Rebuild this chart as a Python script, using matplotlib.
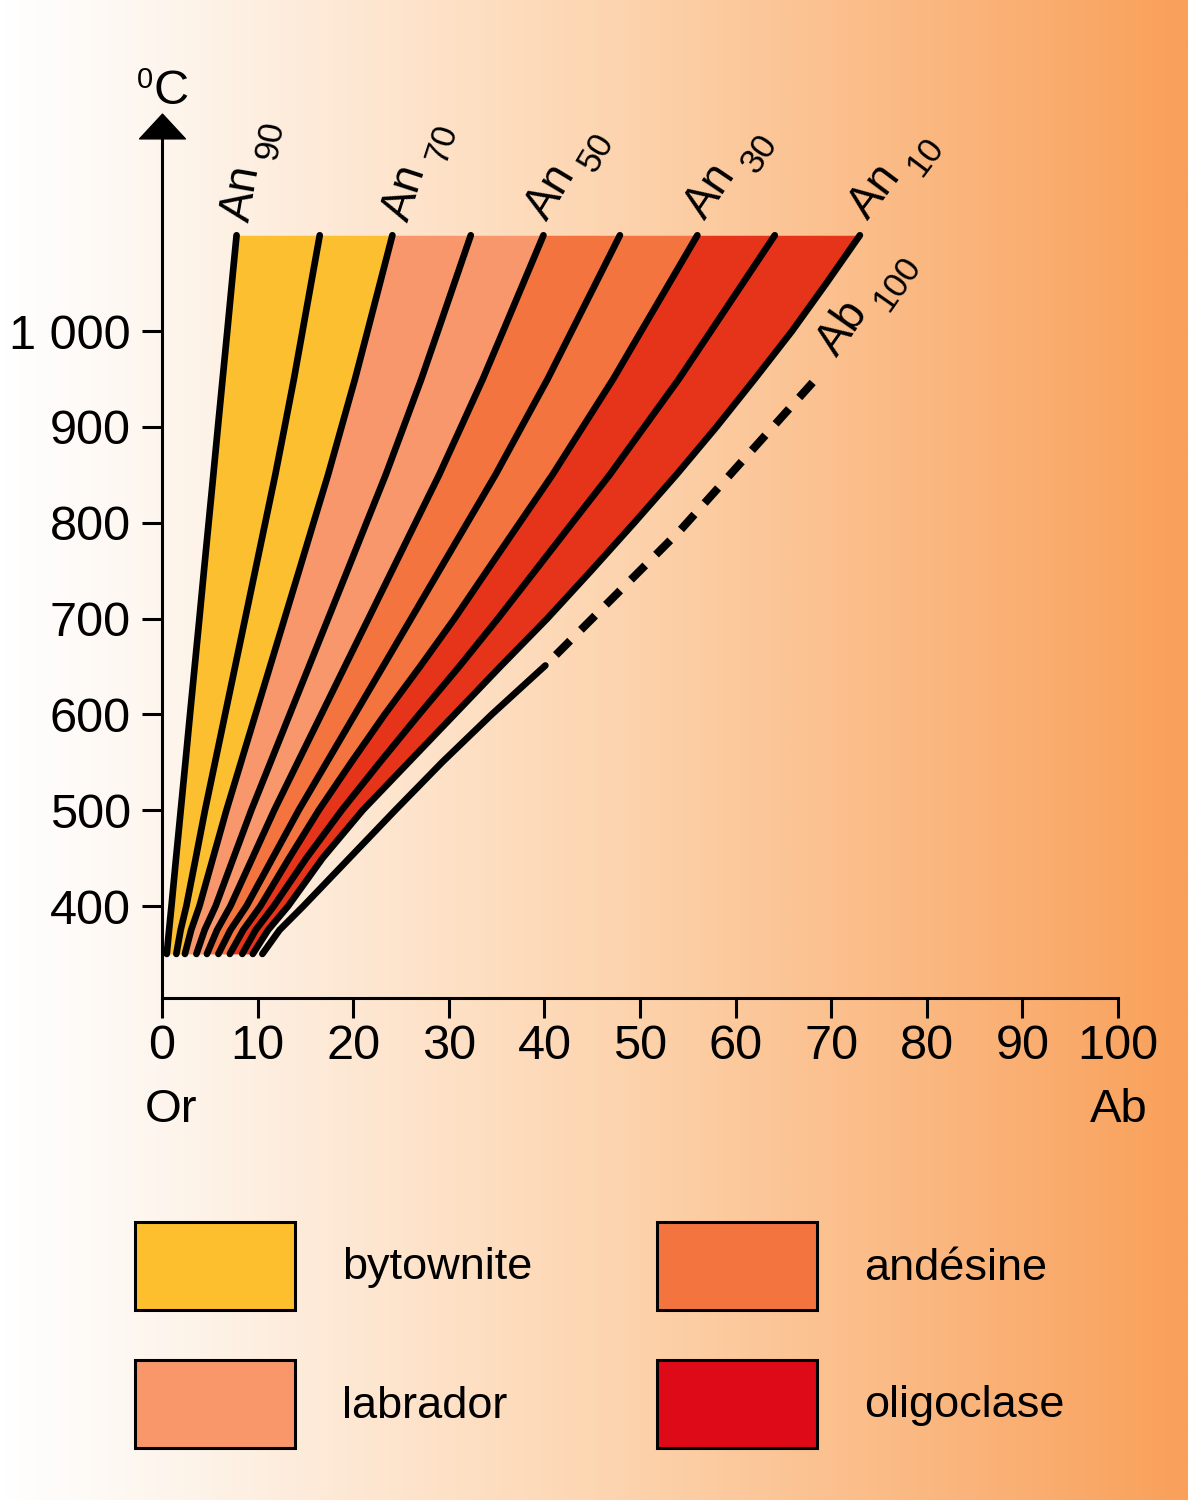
import numpy as np
import matplotlib.pyplot as plt
from matplotlib.colors import LinearSegmentedColormap
from matplotlib.patches import Rectangle
from matplotlib.path import Path

plt.rcParams['font.family'] = ['Liberation Sans', 'DejaVu Sans']

# temperature levels (deg C) shared by all An curves
temps = [350, 375, 400, 450, 500, 550, 600, 650, 700, 750, 800, 850, 900,
         950, 1000, 1050, 1100]

# Ab content (%) of each iso-An curve at those temperatures
an90 = [0.5, 0.74, 0.99, 1.47, 1.96, 2.45, 2.93, 3.42, 3.91, 4.39, 4.88,
        5.37, 5.85, 6.34, 6.83, 7.31, 7.8]
an80 = [1.5, 1.95, 2.55, 3.53, 4.5, 5.55, 6.6, 7.65, 8.7, 9.75, 10.8,
        11.85, 12.83, 13.8, 14.7, 15.6, 16.5]
an70 = [2.4, 3.05, 3.92, 5.33, 6.74, 8.26, 9.78, 11.3, 12.82, 14.34, 15.85,
        17.37, 18.78, 20.19, 21.5, 22.8, 24.1]
an60 = [3.6, 4.46, 5.61, 7.47, 9.34, 11.35, 13.36, 15.37, 17.38, 19.39,
        21.39, 23.4, 25.27, 27.13, 28.86, 30.58, 32.3]
an50 = [4.7, 5.76, 7.16, 9.45, 11.74, 14.2, 16.67, 19.13, 21.6, 24.06,
        26.52, 28.99, 31.28, 33.56, 35.68, 37.79, 39.9]
an40 = [5.9, 7.16, 8.84, 11.57, 14.3, 17.24, 20.18, 23.12, 26.06, 29.0,
        31.94, 34.88, 37.61, 40.34, 42.86, 45.38, 47.9]
an30 = [7.1, 8.5, 10.3, 13.3, 16.4, 19.8, 23.3, 27.0, 30.6, 34.0,
        37.42, 40.84, 44.02, 47.2, 50.13, 53.07, 56.0]
an20 = [8.4, 9.8, 11.7, 15.1, 18.8, 22.8, 26.9, 31.1, 35.14, 39.04,
        42.93, 46.83, 50.45, 54.07, 57.42, 60.76, 64.1]
an10 = [9.5, 11.1, 13.2, 16.8, 21.0, 25.8, 30.6, 35.4, 40.3, 44.9,
        49.4, 53.8, 58.0, 62.0, 65.9, 69.5, 73.0]

# Ab100 curve: solid part then dashed part
ab100_solid_t = [350, 375, 400, 450, 500, 550, 600, 651]
ab100_solid_x = [10.5, 12.3, 14.8, 19.6, 24.4, 29.3, 34.5, 40.1]
ab100_dash_t = [662, 792, 949]
ab100_dash_x = [41.2, 54.2, 68.3]

curves = [an90, an80, an70, an60, an50, an40, an30, an20, an10]
band_colors = ['#fbbf2f', '#fbbf2f', '#f8976b', '#f8976b',
               '#f47440', '#f47440', '#e5341a', '#e5341a']

legend_names = ['bytownite', 'labrador', 'andésine', 'oligoclase']
legend_colors = ['#fdbf2e', '#f9966a', '#f47440', '#df0a18']

yticks = [400, 500, 600, 700, 800, 900, 1000]
ytick_labels = ['400', '500', '600', '700', '800', '900', '1 000']
xticks = list(range(0, 101, 10))

W, H = 1188, 1500
fig = plt.figure(figsize=(W / 100, H / 100), dpi=100)

# background gradient
bg = fig.add_axes([0, 0, 1, 1], zorder=-1)
cmap = LinearSegmentedColormap.from_list(
    'bg', [(0, '#ffffff'), (0.12, '#fef7f0'), (0.5, '#fdd6b2'),
           (1.0, '#f9a05a')])
bg.imshow(np.linspace(0, 1, 512)[None, :], aspect='auto', cmap=cmap,
          extent=[0, 1, 0, 1])
bg.axis('off')

ybot, ytop = 304, 1230
ax = fig.add_axes([162 / W, 1 - 998 / H, (1118 - 162) / W, (998 - 110.7) / H])
ax.set_facecolor('none')
ax.set_xlim(0, 100)
ax.set_ylim(ybot, ytop)

for i in range(len(curves) - 1):
    ax.fill_betweenx(temps, curves[i], curves[i + 1], color=band_colors[i],
                     lw=0, zorder=1)
for c in curves:
    ax.plot(c, temps, color='k', lw=4.8, solid_capstyle='round',
            solid_joinstyle='round', zorder=3)

ax.plot(ab100_solid_x, ab100_solid_t, color='k', lw=4.8,
        solid_capstyle='round', solid_joinstyle='round', zorder=3)
ax.plot(ab100_dash_x, ab100_dash_t, color='k', lw=5.8, dashes=(2.5, 1.9),
        dash_capstyle='butt', zorder=3)

# axes
for s in ['top', 'right']:
    ax.spines[s].set_visible(False)
ax.spines['left'].set_linewidth(2.2)
ax.spines['bottom'].set_linewidth(2.2)
ax.spines['left'].set_bounds(ybot, 1205)
ax.set_xticks(xticks)
ax.set_xticklabels([str(v) for v in xticks])
ax.set_yticks(yticks)
ax.set_yticklabels(ytick_labels)
ax.tick_params(axis='both', direction='out', length=14.5, width=2.2,
               labelsize=35)
ax.tick_params(axis='x', pad=4)
ax.tick_params(axis='y', pad=8)

tri = Path([(-1, -0.54), (1, -0.54), (0, 0.54), (-1, -0.54)],
           [Path.MOVETO, Path.LINETO, Path.LINETO, Path.CLOSEPOLY])
ax.plot([0], [1214], marker=tri, markersize=33, color='k', clip_on=False,
        zorder=4)


def rotated_label(x, y, dx_px, dy_px, angle, main, sub):
    a = np.radians(angle)
    ox, oy = dx_px * 0.72, dy_px * 0.72
    ax.annotate(main, (x, y), xytext=(ox, oy), textcoords='offset points',
                rotation=angle, rotation_mode='anchor', ha='left',
                va='baseline', fontsize=33, annotation_clip=False)
    along, down = 48, 12
    sx = ox + along * np.cos(a) + down * np.sin(a)
    sy = oy + along * np.sin(a) - down * np.cos(a)
    ax.annotate(sub, (x, y), xytext=(sx, sy), textcoords='offset points',
                rotation=angle, rotation_mode='anchor', ha='left',
                va='baseline', fontsize=25, annotation_clip=False)


top = temps[-1]
rotated_label(an90[-1], top, 12, 12, 80, 'An', '90')
rotated_label(an70[-1], top, 16, 12, 72, 'An', '70')
rotated_label(an50[-1], top, 3, 13, 59, 'An', '50')
rotated_label(an30[-1], top, 8, 14, 56, 'An', '30')
rotated_label(an10[-1], top, 8, 14, 53, 'An', '10')
rotated_label(ab100_dash_x[-1], ab100_dash_t[-1], 22, 22, 55, 'Ab', '100')

# unit label
fig.text(137 / W, 1 - 88 / H, '0', fontsize=21, va='baseline', ha='left')
fig.text(153 / W, 1 - 104 / H, 'C', fontsize=35, va='baseline', ha='left')

# end members
fig.text(171 / W, 1 - 1110 / H, 'Or', fontsize=34, ha='center', va='center')
fig.text(1119 / W, 1 - 1110 / H, 'Ab', fontsize=34, ha='center', va='center')

# legend
box_pos = [(135, 1222), (135, 1360), (657, 1222), (657, 1360)]
for (bx, by), name, col in zip(box_pos, legend_names, legend_colors):
    fig.add_artist(Rectangle((bx / W, 1 - (by + 88) / H), 160 / W, 88 / H,
                             facecolor=col, edgecolor='k', lw=2.2,
                             transform=fig.transFigure))
    fig.text((bx + 207) / W, 1 - (by + 46) / H, name, fontsize=32.5,
             ha='left', va='center')

fig.savefig('out.png', dpi=100)
